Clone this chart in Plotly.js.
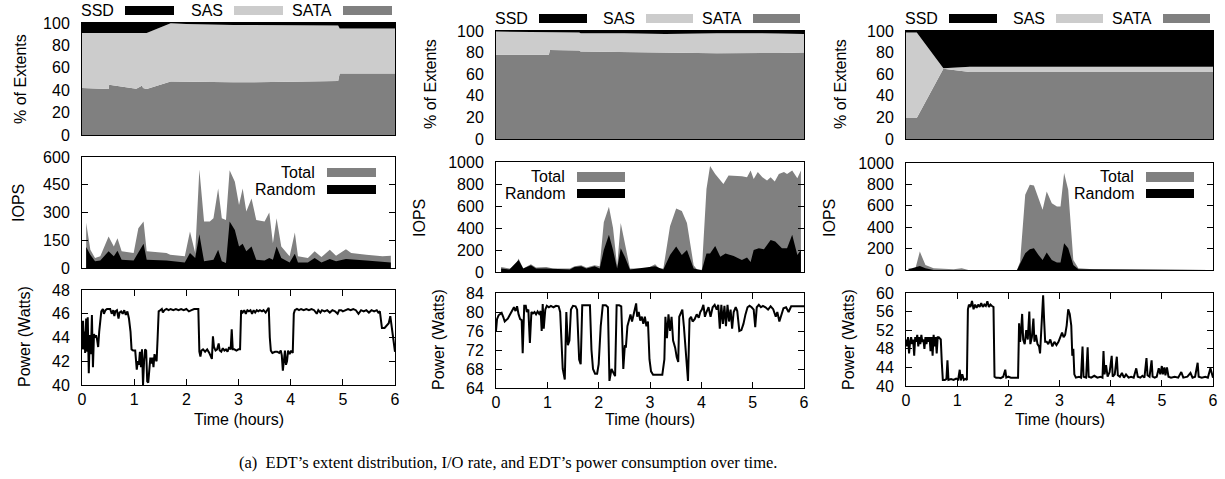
<!DOCTYPE html>
<html><head><meta charset="utf-8">
<script src="https://cdn.plot.ly/plotly-3.0.1.min.js"></script>
<style>html,body{margin:0;padding:0;background:#fff}</style>
</head><body><div id="chart" style="width:1225px;height:479px"></div>
<script>
// ---------------- DATA ----------------
const hourTicks = [0, 1, 2, 3, 4, 5, 6];
const tierNames = ['SSD', 'SAS', 'SATA'];
const iopsNames = ['Total', 'Random'];
const yTitles = ['% of Extents', 'IOPS', 'Power (Watts)'];
const xTitle = 'Time (hours)';
const captionText = '(a)\u00a0\u00a0EDT\u2019s extent distribution, I/O rate, and EDT\u2019s power consumption over time.';

// Extent distribution (% of extents per tier)
const ext1Time = [0, 0.51, 0.52, 1.04, 1.13, 1.15, 1.17, 1.24, 1.70, 2.0, 2.9, 4.0, 4.91, 4.94, 6.0];
const ext1SATA = [42, 41, 44.8, 41.2, 43.5, 44.5, 42, 41, 47.8, 47.5, 47, 47.5, 48.3, 55, 55];
const ext1SAS  = [49, 50, 46.2, 49.8, 47.5, 46.5, 49, 50, 51.9, 51.5, 51.3, 50.3, 49.5, 40.2, 40.2];
const ext1SSD  = [9, 9, 9, 9, 9, 9, 9, 9, 0.3, 1, 1.7, 2.2, 2.2, 4.8, 4.8];

const ext2Time = [0, 1.03, 1.05, 1.62, 1.65, 2.5, 3.3, 4.3, 5.5, 6.0];
const ext2SATA = [78, 78, 82.5, 82, 81, 80.5, 80, 79.5, 79.7, 80];
const ext2SAS  = [21.5, 21.3, 16.3, 16.7, 17, 17.5, 17.3, 18.5, 18.1, 17.2];
const ext2SSD  = [0.5, 0.7, 1.2, 1.3, 2, 2, 2.7, 2, 2.2, 2.8];

const ext3Time = [0, 0.21, 0.73, 1.25, 6.0];
const ext3SATA = [19.5, 19.5, 65, 62, 62];
const ext3SAS  = [79, 79, 0.5, 5, 5];
const ext3SSD  = [1.5, 1.5, 34.5, 33, 33];

// IOPS
const iops1TotalTime = [0.08,0.16,0.25,0.35,0.51,0.61,0.68,0.76,0.99,1.08,1.18,1.24,1.62,1.69,1.97,2.07,2.17,2.25,2.34,2.45,2.52,2.61,2.68,2.76,2.83,2.93,3.01,3.08,3.15,3.25,3.34,3.5,3.59,3.66,3.73,3.82,3.98,4.08,4.14,4.33,4.46,4.59,4.75,4.87,5.06,5.16,5.45,5.76,5.92];
const iops1Total = [245,98,54,63,170,116,161,90,81,215,251,90,81,72,63,197,81,532,251,251,269,430,269,260,528,466,340,430,305,376,260,251,300,134,269,116,63,192,63,54,90,59,98,66,102,81,72,63,66];
const iops1RandomTime = [0.08,0.16,0.25,0.35,0.51,0.61,0.68,0.76,0.99,1.18,1.24,1.62,1.97,2.07,2.17,2.25,2.34,2.52,2.61,2.68,2.76,2.83,2.93,3.01,3.08,3.15,3.25,3.34,3.5,3.59,3.66,3.73,3.82,3.98,4.08,4.14,4.33,4.46,4.59,4.75,4.87,5.06,5.45,5.92];
const iops1Random = [113,72,36,41,90,63,93,45,41,131,45,41,30,81,54,183,36,45,98,36,27,251,206,116,131,90,116,45,41,54,45,116,54,30,77,30,30,54,30,48,36,48,41,30];

const iops2TotalTime = [0.1,0.26,0.36,0.44,0.53,0.68,0.78,0.98,1.11,1.44,1.53,1.66,1.76,1.92,2.02,2.1,2.2,2.28,2.36,2.43,2.51,2.61,2.77,2.94,3.1,3.18,3.26,3.39,3.51,3.62,3.72,3.85,3.92,4.01,4.1,4.17,4.27,4.37,4.43,4.53,4.63,4.79,4.89,4.96,5.02,5.1,5.19,5.28,5.35,5.43,5.51,5.61,5.67,5.77,5.87,5.94];
const iops2Total = [46,31,31,123,31,71,40,46,31,31,52,62,40,62,52,452,594,400,52,446,262,31,31,31,71,31,31,415,578,554,446,62,20,20,754,963,892,831,800,877,877,871,862,923,846,908,862,831,862,822,892,908,892,923,852,923];
const iops2RandomTime = [0.1,0.26,0.44,0.53,0.68,0.78,0.98,1.44,1.53,1.66,1.76,1.92,2.02,2.1,2.2,2.28,2.36,2.43,2.51,2.61,3.1,3.26,3.39,3.51,3.62,3.72,3.85,4.01,4.1,4.17,4.27,4.37,4.47,4.63,4.79,4.89,4.96,5.02,5.12,5.22,5.35,5.44,5.57,5.67,5.77,5.87,5.94];
const iops2Random = [31,22,108,31,62,31,31,22,46,52,31,52,31,200,338,200,31,215,138,22,52,22,154,231,154,200,31,15,169,169,237,138,169,145,108,132,92,200,215,206,292,277,215,215,338,154,200];

const iops3TotalTime = [0.05,0.18,0.27,0.38,0.54,0.93,1.09,1.22,2.17,2.23,2.33,2.42,2.5,2.59,2.67,2.75,2.85,2.95,3.02,3.09,3.17,3.27,3.37,3.66,3.99,4.64,5.94];
const iops3Total = [16,6,172,47,16,6,16,0,0,78,703,797,790,672,563,734,625,594,594,906,750,94,16,6,6,0,0];
const iops3RandomTime = [0.05,0.27,0.38,0.54,2.17,2.33,2.42,2.5,2.59,2.67,2.75,2.85,2.95,3.02,3.09,3.17,3.27,3.37,5.94];
const iops3Random = [6,37,16,0,0,156,194,203,141,94,163,94,69,69,250,203,47,6,0];

// Power (Watts)
const pow1Time = [
0.00,0.02,0.04,0.05,0.06,0.08,0.10,0.11,0.13,0.15,
0.17,0.19,0.21,0.23,0.25,0.27,0.29,0.31,0.33,0.35,
0.37,0.40,0.42,0.45,0.48,0.51,0.54,0.57,0.60,0.62,
0.64,0.67,0.70,0.72,0.75,0.78,0.81,0.84,0.87,0.90,
0.93,0.95,0.98,1.02,1.05,1.07,1.09,1.11,1.13,1.15,
1.17,1.19,1.21,1.23,1.25,1.27,1.29,1.31,1.33,1.35,
1.37,1.39,1.41,1.43,1.45,1.47,1.50,1.53,1.55,1.58,
1.62,1.66,1.70,1.75,1.80,1.85,1.90,1.95,2.00,2.05,
2.10,2.15,2.20,2.23,2.25,2.27,2.29,2.32,2.36,2.40,
2.44,2.47,2.49,2.51,2.53,2.56,2.59,2.62,2.64,2.67,
2.70,2.73,2.76,2.79,2.82,2.85,2.87,2.89,2.92,2.96,
3.00,3.03,3.05,3.08,3.11,3.14,3.17,3.20,3.23,3.26,
3.29,3.32,3.35,3.38,3.41,3.45,3.48,3.52,3.55,3.58,
3.60,3.62,3.65,3.70,3.74,3.78,3.81,3.83,3.85,3.87,
3.89,3.91,3.93,3.95,3.98,4.01,4.04,4.06,4.08,4.12,
4.16,4.20,4.25,4.30,4.35,4.40,4.45,4.50,4.53,4.57,
4.60,4.65,4.70,4.75,4.80,4.85,4.90,4.93,4.97,5.00,
5.05,5.10,5.15,5.20,5.25,5.30,5.35,5.40,5.45,5.50,
5.55,5.60,5.65,5.68,5.71,5.73,5.75,5.80,5.85,5.88,
5.91,5.93,5.96,6.00];
const pow1Watts = [
43.0,45.4,43.0,44.5,42.7,45.6,42.8,45.7,41.0,44.2,
42.6,45.9,41.5,44.3,44.0,44.2,43.8,43.2,44.5,45.8,
46.2,46.4,46.0,46.3,46.4,46.4,46.4,46.0,46.3,45.8,
46.2,46.3,45.6,46.1,46.2,46.0,46.3,45.9,46.2,45.6,
44.5,43.0,42.9,42.9,41.3,42.0,41.7,42.8,41.5,43.0,
40.0,42.0,43.0,42.9,40.3,40.2,41.0,42.3,41.8,42.3,
41.5,42.6,42.2,42.0,44.0,46.2,46.3,46.4,46.1,46.3,
46.4,46.3,46.4,46.3,46.4,46.3,46.4,46.3,46.4,46.2,
46.3,46.4,46.4,46.4,42.8,42.4,42.9,43.0,42.8,43.0,
42.7,42.3,42.2,44.1,43.2,42.9,43.0,43.5,42.9,42.8,
43.1,42.9,43.0,42.8,43.2,43.0,44.7,43.0,43.0,42.9,
43.0,43.0,46.3,46.1,46.3,46.0,46.3,46.2,46.3,46.0,
46.3,46.1,46.3,46.2,46.3,46.2,46.3,46.1,46.3,46.5,
44.0,42.9,42.7,42.8,42.8,42.7,42.9,42.5,41.2,42.3,
42.9,41.7,42.0,42.9,42.6,42.9,42.7,46.0,46.3,46.4,
46.3,46.4,46.3,46.4,46.3,46.4,46.3,46.0,46.3,46.1,
46.3,46.2,46.3,46.1,46.3,46.2,46.0,46.3,46.3,46.2,
46.3,46.4,46.3,46.4,46.3,46.0,46.3,46.2,46.3,46.1,
46.3,46.2,46.3,46.1,46.2,45.3,44.8,44.8,45.0,45.2,
45.8,45.2,44.0,42.8];

const pow2Time = [
0.00,0.02,0.05,0.08,0.11,0.14,0.17,0.20,0.23,0.26,
0.29,0.32,0.35,0.38,0.41,0.44,0.47,0.50,0.52,0.55,
0.58,0.60,0.63,0.66,0.69,0.72,0.75,0.78,0.81,0.84,
0.87,0.89,0.91,0.93,0.96,0.99,1.03,1.07,1.12,1.17,
1.22,1.25,1.28,1.30,1.34,1.37,1.40,1.43,1.46,1.50,
1.55,1.58,1.62,1.65,1.68,1.72,1.78,1.83,1.86,1.89,
1.93,1.97,2.00,2.04,2.08,2.14,2.18,2.21,2.25,2.29,
2.32,2.35,2.40,2.44,2.48,2.51,2.53,2.56,2.59,2.62,
2.65,2.68,2.71,2.73,2.75,2.78,2.81,2.84,2.87,2.90,
2.93,2.96,2.99,3.02,3.06,3.12,3.18,3.24,3.28,3.30,
3.33,3.36,3.39,3.42,3.45,3.49,3.52,3.55,3.57,3.60,
3.63,3.66,3.70,3.74,3.77,3.80,3.83,3.87,3.91,3.95,
3.98,4.01,4.04,4.07,4.10,4.14,4.18,4.22,4.26,4.30,
4.33,4.36,4.39,4.42,4.45,4.48,4.51,4.54,4.57,4.60,
4.63,4.67,4.70,4.74,4.78,4.82,4.86,4.90,4.94,4.98,
5.02,5.05,5.08,5.12,5.16,5.20,5.25,5.30,5.35,5.40,
5.45,5.48,5.52,5.56,5.60,5.65,5.70,5.75,5.80,5.90,
6.00];
const pow2Watts = [
76.0,78.5,79.3,79.6,79.8,79.0,78.0,78.3,78.6,79.2,
79.8,80.3,81.0,80.2,81.2,79.5,78.5,78.3,71.3,81.3,
81.3,80.0,80.5,73.5,80.0,79.7,80.0,79.5,80.1,79.6,
80.2,76.0,81.7,76.5,80.5,81.3,81.0,81.3,81.0,81.3,
81.2,80.0,70.0,68.0,65.8,80.0,73.0,74.0,80.5,81.3,
81.2,80.5,70.0,69.0,81.4,81.4,81.4,81.4,72.0,68.0,
67.0,67.0,69.0,77.0,81.4,81.4,81.0,65.5,68.0,67.0,
66.5,81.4,81.4,81.2,68.0,73.0,72.5,77.0,78.5,79.5,
78.0,79.3,80.5,81.8,79.0,80.0,78.2,79.0,77.5,79.0,
77.0,78.0,70.0,67.5,66.8,66.8,66.8,66.8,70.0,79.0,
74.5,79.5,76.0,79.0,74.0,72.5,70.5,69.5,79.0,80.0,
80.5,77.0,71.0,65.5,78.5,79.0,78.0,78.5,79.5,78.8,
80.0,80.5,81.5,79.0,80.0,81.0,79.0,81.0,81.5,80.5,
81.5,76.5,81.5,77.5,81.3,77.0,81.5,78.0,80.5,76.5,
80.0,81.0,80.2,76.0,76.2,77.5,79.5,81.0,81.3,81.0,
80.5,76.8,81.0,81.5,81.0,81.3,81.0,80.5,81.2,80.6,
79.0,80.0,78.0,79.5,80.8,81.0,80.0,81.2,81.2,81.2,
81.2];

const pow3Time = [
0.00,0.02,0.04,0.06,0.08,0.10,0.12,0.14,0.16,0.18,
0.20,0.22,0.24,0.26,0.28,0.30,0.32,0.34,0.36,0.38,
0.40,0.42,0.44,0.46,0.48,0.50,0.52,0.54,0.56,0.58,
0.60,0.62,0.64,0.66,0.68,0.70,0.72,0.76,0.79,0.81,
0.83,0.88,0.93,0.98,1.02,1.05,1.07,1.10,1.13,1.16,
1.19,1.21,1.23,1.26,1.29,1.32,1.35,1.38,1.41,1.44,
1.47,1.50,1.53,1.56,1.59,1.62,1.65,1.68,1.71,1.73,
1.76,1.80,1.85,1.90,1.94,1.96,2.00,2.05,2.10,2.15,
2.19,2.21,2.23,2.25,2.27,2.29,2.32,2.35,2.38,2.41,
2.43,2.46,2.49,2.51,2.54,2.57,2.60,2.62,2.65,2.68,
2.70,2.72,2.75,2.78,2.82,2.86,2.90,2.94,2.98,3.02,
3.05,3.08,3.11,3.14,3.17,3.20,3.23,3.25,3.27,3.29,
3.32,3.38,3.42,3.45,3.47,3.52,3.55,3.57,3.62,3.68,
3.74,3.80,3.84,3.86,3.88,3.91,3.94,3.98,4.02,4.04,
4.08,4.12,4.14,4.18,4.22,4.26,4.30,4.35,4.40,4.45,
4.50,4.53,4.58,4.62,4.66,4.70,4.72,4.76,4.80,4.82,
4.86,4.90,4.94,4.97,5.00,5.02,5.05,5.07,5.10,5.13,
5.18,5.25,5.32,5.38,5.42,5.50,5.56,5.60,5.65,5.70,
5.72,5.78,5.85,5.90,5.95,6.00];
const pow3Watts = [
50.0,48.5,50.5,47.0,49.5,50.5,49.0,50.0,46.5,50.5,
49.5,51.0,48.5,50.5,49.0,51.0,49.5,50.0,48.0,50.5,
49.0,50.5,49.5,50.5,47.5,50.5,46.5,51.0,48.5,50.5,
47.0,50.5,50.5,50.3,50.0,45.0,41.3,41.3,41.5,45.5,
41.3,41.5,41.3,41.6,41.4,43.5,41.2,42.5,41.3,41.5,
41.3,56.5,57.5,57.0,58.3,56.5,57.5,56.8,57.5,57.0,
57.8,57.0,57.5,57.2,58.2,57.0,57.5,57.2,57.0,42.0,
41.8,41.8,41.7,42.0,43.5,41.8,42.0,41.8,41.8,41.8,
41.8,53.5,49.5,52.0,55.5,50.0,49.0,52.0,50.0,56.0,
49.0,50.5,54.5,49.5,51.0,49.0,48.5,47.0,52.5,59.5,
54.0,49.5,49.5,49.0,50.0,48.5,49.5,48.8,49.5,50.5,
51.5,50.5,51.0,53.0,56.5,55.5,53.0,46.5,48.0,42.5,
41.8,42.0,41.8,48.5,42.0,41.8,48.3,42.0,41.8,42.2,
41.8,42.0,41.8,47.5,42.5,44.5,42.0,43.0,46.5,42.0,
42.5,46.3,42.3,42.0,42.8,41.8,42.5,41.8,42.0,41.8,
43.8,42.0,41.8,42.2,41.8,46.0,42.3,42.0,45.5,42.0,
41.8,42.0,43.8,42.5,44.3,42.5,44.0,42.3,44.0,42.0,
41.8,42.0,41.8,43.0,41.8,42.0,42.8,41.8,42.0,45.0,
42.0,41.8,42.0,41.8,43.8,41.8];

// ---------------- STYLE / LAYOUT ----------------
const FONT = 'Liberation Sans, Arial, Helvetica, sans-serif';
const SERIF = 'Liberation Serif, Times New Roman, serif';
const C_SSD = '#000000', C_SAS = '#cccccc', C_SATA = '#808080';
const C_TOTAL = '#808080', C_RANDOM = '#000000';
const W = 1225, H = 479;
const px = x => x / W, py = y => 1 - y / H;

const colX = [[82, 395], [496, 804], [906, 1213]];
const rowY = [
  [[23, 135], [31, 139], [31, 139]],
  [[157, 268], [162, 272], [163, 270]],
  [[290, 385], [293, 388], [293, 386]]
];
const yRange = [
  [[0, 100], [0, 100], [0, 100]],
  [[0, 600], [0, 1000], [0, 1000]],
  [[40, 48], [64, 84], [40, 60]]
];
const yDtick = [[20, 20, 20], [150, 200, 200], [2, 4, 4]];

const extData = [
  [ext1Time, ext1SATA, ext1SAS, ext1SSD],
  [ext2Time, ext2SATA, ext2SAS, ext2SSD],
  [ext3Time, ext3SATA, ext3SAS, ext3SSD]
];
const iopsData = [
  [iops1TotalTime, iops1Total, iops1RandomTime, iops1Random],
  [iops2TotalTime, iops2Total, iops2RandomTime, iops2Random],
  [iops3TotalTime, iops3Total, iops3RandomTime, iops3Random]
];
const powData = [[pow1Time, pow1Watts], [pow2Time, pow2Watts], [pow3Time, pow3Watts]];

const sfx = i => (i === 1 ? '' : String(i));
const traces = [];
const layout = {
  width: W, height: H,
  margin: {l: 0, r: 0, t: 0, b: 0},
  paper_bgcolor: '#ffffff', plot_bgcolor: 'rgba(0,0,0,0)',
  showlegend: false, hovermode: false,
  font: {family: FONT, size: 16, color: '#000'},
  shapes: [], annotations: []
};

for (let r = 0; r < 3; r++) {
  for (let c = 0; c < 3; c++) {
    const i = r * 3 + c + 1, s = sfx(i);
    layout['xaxis' + s] = {
      domain: [px(colX[c][0]), px(colX[c][1])], anchor: 'y' + s,
      range: [0, 6], tickvals: hourTicks, ticktext: hourTicks.map(String),
      showline: true, linecolor: '#000', linewidth: 1,
      mirror: r === 2 ? 'ticks' : true,
      ticks: r === 2 ? 'inside' : '', ticklen: 6, tickcolor: '#000', tickwidth: 1,
      showticklabels: r === 2, ticklabelstandoff: 0,
      tickfont: {family: FONT, size: 16, color: '#000'},
      showgrid: false, zeroline: false, fixedrange: true
    };
    layout['yaxis' + s] = {
      domain: [py(rowY[r][c][1]), py(rowY[r][c][0])], anchor: 'x' + s,
      range: yRange[r][c], dtick: yDtick[r][c], tick0: yRange[r][c][0],
      showline: true, linecolor: '#000', linewidth: 1,
      mirror: r === 0 ? true : 'ticks',
      ticks: r === 0 ? '' : 'inside', ticklen: 6, tickcolor: '#000', tickwidth: 1,
      ticklabelstandoff: 8,
      tickfont: {family: FONT, size: 16, color: '#000'},
      showgrid: false, zeroline: false, fixedrange: true
    };
    const xa = 'x' + s, ya = 'y' + s;
    if (r === 0) {
      const [t, sata, sas, ssd] = extData[c];
      const grp = 'ext' + c;
      [[sata, C_SATA, 'SATA'], [sas, C_SAS, 'SAS'], [ssd, C_SSD, 'SSD']].forEach(([v, col, nm]) => {
        traces.push({x: t, y: v, name: nm, xaxis: xa, yaxis: ya, stackgroup: grp,
          mode: 'lines', line: {width: 0, color: col}, fillcolor: col});
      });
    } else if (r === 1) {
      const [tt, tv, rt, rv] = iopsData[c];
      traces.push({x: tt, y: tv, name: 'Total', xaxis: xa, yaxis: ya, mode: 'lines',
        fill: 'tozeroy', fillcolor: C_TOTAL, line: {width: 0, color: C_TOTAL}});
      traces.push({x: rt, y: rv, name: 'Random', xaxis: xa, yaxis: ya, mode: 'lines',
        fill: 'tozeroy', fillcolor: C_RANDOM, line: {width: 0, color: C_RANDOM}});
    } else {
      const [t, w] = powData[c];
      traces.push({x: t, y: w, name: 'Power', xaxis: xa, yaxis: ya, mode: 'lines',
        line: {width: 2, color: '#000'}});
    }
  }
}

// y-axis titles
const yTitleX = [[20, 19, 24], [430, 419, 438], [840, 829, 848]];
const yTitleY = [[79, 203, 337], [84, 218, 340], [84, 218, 340]];
for (let c = 0; c < 3; c++) {
  for (let r = 0; r < 3; r++) {
    layout.annotations.push({text: yTitles[r], xref: 'paper', yref: 'paper',
      x: px(yTitleX[c][r]), y: py(yTitleY[c][r]), xanchor: 'center', yanchor: 'middle',
      textangle: -90, showarrow: false, font: {family: FONT, size: 16, color: '#000'}});
  }
  layout.annotations.push({text: xTitle, xref: 'paper', yref: 'paper',
    x: px((colX[c][0] + colX[c][1]) / 2), y: py(419), xanchor: 'center', yanchor: 'middle',
    showarrow: false, font: {family: FONT, size: 16, color: '#000'}});
}

// tier legends (text left of sample, gnuplot style)
const tierColors = [C_SSD, C_SAS, C_SATA];
const tierLegend = [
  {y0: 6, y1: 15, boxes: [[125, 174], [234, 283], [343, 392]]},
  {y0: 14, y1: 23, boxes: [[539, 587], [646, 693], [753, 800]]},
  {y0: 14, y1: 23, boxes: [[949, 997], [1056, 1103], [1163, 1210]]}
];
tierLegend.forEach(L => {
  L.boxes.forEach((b, k) => {
    layout.shapes.push({type: 'rect', xref: 'paper', yref: 'paper',
      x0: px(b[0]), x1: px(b[1]), y0: py(L.y1), y1: py(L.y0),
      fillcolor: tierColors[k], line: {width: 0}});
    layout.annotations.push({text: tierNames[k], xref: 'paper', yref: 'paper',
      x: px(b[0] - 9), y: py((L.y0 + L.y1) / 2), xanchor: 'right', yanchor: 'middle',
      showarrow: false, font: {family: FONT, size: 16, color: '#000'}});
  });
});

// IOPS legends
const iopsColors = [C_TOTAL, C_RANDOM];
const iopsLegend = [
  {x0: 327, x1: 376, rows: [[168, 177], [185, 194]]},
  {x0: 577, x1: 625, rows: [[172, 182], [189, 198]]},
  {x0: 1146, x1: 1194, rows: [[172, 182], [189, 198]]}
];
iopsLegend.forEach(L => {
  L.rows.forEach((rw, k) => {
    layout.shapes.push({type: 'rect', xref: 'paper', yref: 'paper',
      x0: px(L.x0), x1: px(L.x1), y0: py(rw[1]), y1: py(rw[0]),
      fillcolor: iopsColors[k], line: {width: 0}});
    layout.annotations.push({text: iopsNames[k], xref: 'paper', yref: 'paper',
      x: px(L.x0 - 10), y: py((rw[0] + rw[1]) / 2), xanchor: 'right', yanchor: 'middle',
      showarrow: false, font: {family: FONT, size: 16, color: '#000'}});
  });
});

// caption
layout.annotations.push({text: captionText, xref: 'paper', yref: 'paper',
  x: px(237), y: py(462), xanchor: 'left', yanchor: 'middle', showarrow: false,
  font: {family: SERIF, size: 16.5, color: '#000'}});

Plotly.newPlot('chart', traces, layout, {staticPlot: true, displayModeBar: false});
</script>
</body></html>
